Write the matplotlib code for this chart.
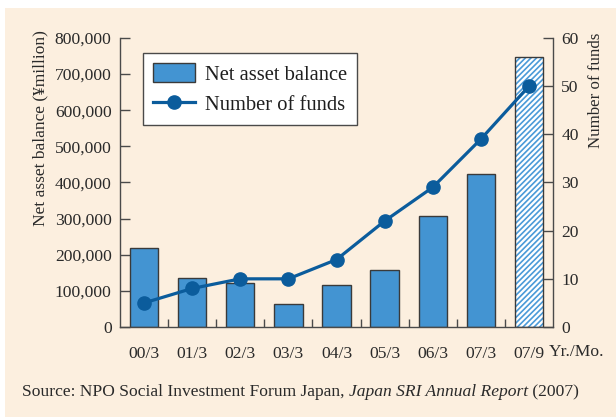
import matplotlib
matplotlib.use("Agg")
import matplotlib.pyplot as plt
from matplotlib.patches import Rectangle, Patch
from matplotlib.lines import Line2D
import numpy as np

plt.rcParams['font.family'] = ['Liberation Serif', 'DejaVu Serif']

categories = ["00/3", "01/3", "02/3", "03/3", "04/3", "05/3", "06/3", "07/3", "07/9"]
net_assets = [219000, 137000, 121000, 63000, 115000, 157000, 307000, 423000, 747000]
num_funds = [5, 8, 10, 10, 14, 22, 29, 39, 50]
left_ticks = [0, 100000, 200000, 300000, 400000, 500000, 600000, 700000, 800000]
right_ticks = [0, 10, 20, 30, 40, 50, 60]

W, H = 616, 419
fig = plt.figure(figsize=(W / 100, H / 100), dpi=100, facecolor='white')
beige = '#FCEFDF'
fig.patches.append(Rectangle((5 / W, 2 / H), (W - 5) / W, (417 - 8) / H,
                             transform=fig.transFigure, facecolor=beige,
                             edgecolor='none', zorder=-10))

AX_L, AX_R, AX_B, AX_T = 120, 553, 327, 38
ax = fig.add_axes([AX_L / W, 1 - AX_B / H, (AX_R - AX_L) / W, (AX_B - AX_T) / H])
ax.set_facecolor('none')
ax2 = ax.twinx()
ax2.set_facecolor('none')

def axx(px):
    return (px - AX_L) / (AX_R - AX_L)

def axy(py):
    return (AX_B - py) / (AX_B - AX_T)

x = np.arange(len(categories))
bar_color = '#4394D2'
edge = '#3a3a3a'
ax.bar(x[:-1], net_assets[:-1], width=0.59, color=bar_color, edgecolor=edge,
       linewidth=1.0, zorder=2)
plt.rcParams['hatch.linewidth'] = 1.2
ax.bar(x[-1:], net_assets[-1:], width=0.59, color='white', edgecolor='#4A9AD8',
       hatch='//////', linewidth=0, zorder=2)
ax.bar(x[-1:], net_assets[-1:], width=0.59, color='none', edgecolor=edge,
       linewidth=1.0, zorder=3)

line_color = '#0B5C9C'
ax2.plot(x, num_funds, color=line_color, linewidth=2.3, marker='o',
         markersize=9.5, zorder=4)

ax.set_xlim(-0.5, 8.5)
ax.set_ylim(0, 800000)
ax2.set_ylim(0, 60)

spine_c = '#4a4a4a'
txt_c = '#2a2a2a'
for a in (ax, ax2):
    for s in a.spines.values():
        s.set_color(spine_c)
        s.set_linewidth(1.0)
    a.spines['top'].set_visible(False)
ax.spines['right'].set_visible(False)
ax2.spines['left'].set_visible(False)
ax2.spines['bottom'].set_visible(False)

ax.set_yticks(left_ticks)
ax.set_yticklabels([f"{v:,}" for v in left_ticks])
ax.tick_params(axis='y', direction='in', length=7, width=1, color=spine_c,
               labelsize=12.6, labelcolor=txt_c, pad=6)
ax2.set_yticks(right_ticks)
ax2.tick_params(axis='y', direction='in', length=7, width=1, color=spine_c,
                labelsize=12.6, labelcolor=txt_c, pad=6)

ax.set_xticks(x)
ax.set_xticklabels(categories)
ax.tick_params(axis='x', which='major', length=0, labelsize=12.6,
               labelcolor=txt_c, pad=14)
ax.set_xticks(np.arange(0.5, 8, 1), minor=True)
ax.tick_params(axis='x', which='minor', direction='in', length=6, width=1,
               color=spine_c)

ax.set_ylabel("Net asset balance (¥million)", fontsize=12.5, color=txt_c)
ax.yaxis.set_label_coords(axx(48), axy(128))
ax2.set_ylabel("Number of funds", fontsize=12.2, color=txt_c)
ax2.yaxis.set_label_coords(axx(588), axy(90))

fig.text(577 / W, 1 - 352 / H, "Yr./Mo.", fontsize=12.6, color=txt_c,
         ha='center', va='center')

handles = [Patch(facecolor=bar_color, edgecolor=edge, linewidth=1.0),
           Line2D([0], [0], color=line_color, linewidth=2.3, marker='o',
                  markersize=9.5)]
leg = ax.legend(handles, ["Net asset balance", "Number of funds"],
                loc='upper left', bbox_to_anchor=(axx(143), axy(53)),
                fontsize=14.8, frameon=True, fancybox=False,
                handlelength=2.05, handleheight=1.0, borderpad=0.5,
                labelspacing=0.45, handletextpad=0.45, borderaxespad=0)
leg.get_frame().set_edgecolor(spine_c)
leg.get_frame().set_linewidth(1.0)
leg.get_frame().set_facecolor('white')
leg.get_frame().set_alpha(1)
for t in leg.get_texts():
    t.set_color('#1e1e1e')

t1 = fig.text(22 / W, 1 - 392 / H, "Source: NPO Social Investment Forum Japan, ",
              fontsize=12.6, color=txt_c, va='center')
t2 = ax.annotate("Japan SRI Annual Report", xy=(1, 0), xycoords=t1,
                 va='bottom', fontsize=12.6, color=txt_c, style='italic',
                 annotation_clip=False)
t3 = ax.annotate(" (2007)", xy=(1, 0), xycoords=t2, va='bottom', fontsize=12.6,
                 color=txt_c, annotation_clip=False)

fig.savefig("out.png", dpi=100, facecolor='white')
